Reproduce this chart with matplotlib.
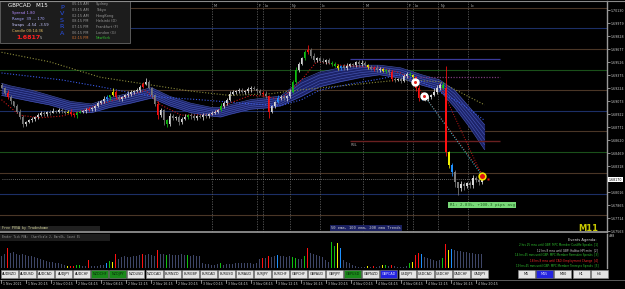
import numpy as np
import matplotlib
matplotlib.use("Agg")
import matplotlib.pyplot as plt
from matplotlib.lines import Line2D
from matplotlib.patches import Rectangle

W, H = 625, 289

# ---- price data (GBPCAD, one close per bar) ----
first_open = 1.6926
closes = [
    1.6923, 1.6917, 1.6912, 1.6907, 1.6902, 1.6895, 1.6889, 1.6881, 1.6883, 1.6885,
    1.6887, 1.6889, 1.6891, 1.6894, 1.6892, 1.6895, 1.6894, 1.6896, 1.6895, 1.6897,
    1.6896, 1.6894, 1.6895, 1.6892, 1.6891, 1.6894, 1.6895, 1.6896, 1.6897, 1.6898,
    1.6899, 1.6902, 1.6905, 1.6907, 1.6910, 1.6912, 1.6914, 1.6918, 1.6912, 1.6910,
    1.6912, 1.6914, 1.6916, 1.6918, 1.6919, 1.6920, 1.6924, 1.6927, 1.6930, 1.6923,
    1.6914, 1.6904, 1.6891, 1.6897, 1.6885, 1.6881, 1.6890, 1.6888, 1.6889, 1.6883,
    1.6887, 1.6889, 1.6891, 1.6890, 1.6888, 1.6890, 1.6889, 1.6891, 1.6890, 1.6892,
    1.6894, 1.6895, 1.6897, 1.6902, 1.6905, 1.6909, 1.6916, 1.6918, 1.6919, 1.6920,
    1.6918, 1.6919, 1.6921, 1.6923, 1.6921, 1.6919, 1.6917, 1.6916, 1.6913, 1.6895,
    1.6902, 1.6906, 1.6911, 1.6912, 1.6911, 1.6913, 1.6918, 1.6930, 1.6943, 1.6950,
    1.6957, 1.6964, 1.6967, 1.6960, 1.6955, 1.6957, 1.6954, 1.6953, 1.6955, 1.6952,
    1.6950, 1.6948, 1.6946, 1.6948, 1.6946, 1.6948, 1.6950, 1.6949, 1.6953, 1.6950,
    1.6952, 1.6949, 1.6947, 1.6945, 1.6946, 1.6943, 1.6945, 1.6942, 1.6943, 1.6941,
    1.6933, 1.6932, 1.6933, 1.6931, 1.6936, 1.6939, 1.6938, 1.6935, 1.6923, 1.6911,
    1.6913, 1.6910, 1.6912, 1.6914, 1.6918, 1.6923, 1.6926, 1.6923, 1.6848, 1.6833,
    1.6825, 1.6813, 1.6807, 1.6811, 1.6809, 1.6812, 1.6810, 1.6818, 1.6816, 1.6813,
    1.6817]
# wick lengths in pips above / below the body
up_wick = [
    2, 1, 3, 2, 1, 2, 3, 2, 1, 2, 2, 1, 3, 2, 2, 1, 2, 3, 1, 2,
    2, 1, 2, 3, 1, 2, 2, 1, 2, 3, 2, 1, 2, 2, 3, 2, 1, 4, 2, 2,
    1, 2, 3, 2, 1, 2, 2, 3, 4, 2, 1, 2, 3, 2, 1, 2, 3, 2, 1, 2,
    2, 3, 1, 2, 2, 1, 2, 3, 2, 1, 2, 2, 1, 3, 2, 2, 3, 2, 1, 2,
    2, 1, 3, 2, 2, 1, 2, 2, 3, 2, 1, 2, 3, 2, 2, 1, 3, 2, 4, 3,
    2, 3, 6, 2, 3, 2, 2, 3, 1, 2, 2, 3, 2, 1, 2, 3, 2, 2, 1, 2,
    3, 2, 1, 2, 2, 3, 2, 1, 2, 2, 3, 2, 1, 2, 3, 2, 2, 1, 2, 3,
    2, 2, 3, 2, 4, 3, 2, 3, 25, 2, 3, 2, 1, 4, 3, 2, 3, 4, 2, 3,
    2]
lo_wick = [
    1, 2, 2, 3, 2, 1, 2, 4, 2, 1, 2, 3, 2, 1, 2, 2, 3, 1, 2, 2,
    3, 2, 1, 2, 2, 3, 1, 2, 2, 1, 2, 3, 2, 1, 2, 2, 3, 1, 2, 2,
    2, 1, 2, 3, 2, 1, 2, 2, 1, 2, 3, 2, 4, 2, 5, 4, 2, 3, 2, 3,
    2, 1, 2, 3, 2, 2, 1, 3, 2, 2, 1, 2, 2, 1, 3, 2, 2, 1, 2, 2,
    1, 2, 2, 3, 1, 2, 2, 3, 2, 7, 2, 3, 1, 2, 2, 3, 2, 1, 2, 2,
    1, 2, 2, 3, 2, 2, 1, 2, 3, 2, 2, 1, 2, 3, 2, 2, 1, 2, 2, 3,
    2, 1, 2, 2, 3, 2, 2, 1, 2, 3, 2, 2, 1, 3, 2, 2, 2, 3, 4, 3,
    2, 3, 2, 2, 1, 2, 3, 2, 4, 3, 4, 5, 8, 4, 5, 3, 4, 3, 2, 3,
    2]
# broker tick volume per bar
volumes = [
    600, 700, 1000, 750, 800, 700, 650, 700, 650, 600, 600, 550, 500, 450, 400, 350, 300, 300, 250, 250,
    200, 150, 100, 100, 100, 150, 150, 100, 100, 400, 100, 100, 100, 150, 150, 250, 350, 300, 700, 450,
    550, 600, 550, 550, 600, 600, 650, 700, 650, 700, 650, 600, 900, 700, 700, 650, 700, 650, 650, 650,
    700, 650, 650, 600, 650, 600, 600, 250, 200, 200, 150, 150, 200, 250, 150, 200, 200, 200, 250, 250,
    250, 250, 250, 250, 200, 250, 450, 500, 500, 600, 550, 600, 650, 600, 600, 550, 600, 550, 500, 450,
    450, 600, 1000, 750, 700, 650, 600, 550, 400, 300, 1300, 1100, 1250, 1000, 400, 300, 250, 150, 100, 50,
    50, 50, 100, 50, 100, 50, 100, 150, 150, 100, 150, 100, 50, 50, 50, 100, 250, 300, 650, 750,
    700, 550, 500, 450, 400, 350, 400, 500, 1200, 900, 950, 900, 850, 850, 800, 800, 750, 750, 700, 700,
    700]
# PVSA volume classes: r climax bear, g climax bull, y / b rising volume
pvsa_class = {2: 'r', 22: 'y', 23: 'r', 24: 'r', 25: 'g', 26: 'g', 29: 'r', 35: 'b', 36: 'g',
              37: 'y', 38: 'r', 47: 'r', 52: 'r', 55: 'g', 62: 'g', 73: 'g', 87: 'r', 89: 'r',
              92: 'b', 97: 'g', 98: 'g', 101: 'g', 102: 'r', 110: 'g', 111: 'g', 112: 'y',
              113: 'b', 122: 'y', 124: 'r', 127: 'y', 128: 'g', 130: 'r', 136: 'g', 137: 'y',
              138: 'r', 139: 'r', 140: 'b', 147: 'g', 148: 'r', 149: 'y', 150: 'b'}

# ---- 50/100/200 ema trend ribbon and dotted averages ----
ribbon_bars = [0, 3, 10, 16, 23, 30, 36, 43, 50, 56, 63, 70, 73, 76, 83, 90, 93, 100, 106, 113,
               120, 126, 133, 140, 146, 151, 156, 161]
ribbon_hi = [1.6928, 1.6925, 1.6920, 1.6914, 1.6907, 1.6904, 1.6911, 1.6917, 1.6923, 1.6913,
             1.6905, 1.6900, 1.6900, 1.6903, 1.6909, 1.6912, 1.6913, 1.6932, 1.6941, 1.6946,
             1.6949, 1.6949, 1.6946, 1.6938, 1.6932, 1.6920, 1.6900, 1.6880]
ribbon_lo = [1.6914, 1.6912, 1.6907, 1.6903, 1.6896, 1.6894, 1.6900, 1.6905, 1.6911, 1.6902,
             1.6894, 1.6890, 1.6889, 1.6892, 1.6898, 1.6900, 1.6902, 1.6913, 1.6924, 1.6930,
             1.6935, 1.6938, 1.6934, 1.6926, 1.6920, 1.6900, 1.6877, 1.6851]
slow_bars = [0, 10, 20, 33, 43, 53, 66, 80, 93, 100, 106, 116, 126, 133, 140, 146, 153, 161]
slow_ema = [1.6940, 1.6936, 1.6932, 1.6924, 1.6917, 1.6912, 1.6909, 1.6905, 1.6902, 1.6909,
            1.6920, 1.6927, 1.6933, 1.6938, 1.6930, 1.6918, 1.6905, 1.6885]
long_bars = [0, 16, 33, 50, 63, 76, 90, 96, 113, 133, 146, 161]
long_ema = [1.6964, 1.6953, 1.6935, 1.6926, 1.6919, 1.6914, 1.6916, 1.6919, 1.6925, 1.6932,
            1.6930, 1.6903]
fast_bars = [0, 6, 13, 20, 26, 33, 40, 48, 53, 60, 70, 76, 83, 88, 93, 100, 105, 113, 126, 133, 136]
fast_ema = [1.6909, 1.6891, 1.6888, 1.6890, 1.6895, 1.6904, 1.6911, 1.6920, 1.6903, 1.6891,
            1.6892, 1.6905, 1.6914, 1.6913, 1.6909, 1.6932, 1.6953, 1.6949, 1.6946, 1.6940, 1.6934]

# ---- levels, sessions, signals ----
levels = [1.7015, 1.6992, 1.6968, 1.6943, 1.6920, 1.6896, 1.6873, 1.6848, 1.6824, 1.6800, 1.6775]
session_bars = [70, 85, 87, 96, 106, 120.5, 135, 137, 145.5, 155.5]
session_names = ['M', 'F', 'Lo', 'Ny', 'Lc', 'M', 'F', 'Lo', 'Ny', 'Lc']
signal_bars = [137.8, 140.8]
signal_prices = [1.6930, 1.6913]
target_bar, target_price = 160.2, 1.6821
r3l_level, zone_top, zone_mid = 1.6861, 1.6956, 1.6935
current_price = 1.6817
price_ticks = [1.70130, 1.69979, 1.69828, 1.69677, 1.69526, 1.69375, 1.69224, 1.69073, 1.68922,
               1.68771, 1.68620, 1.68469, 1.68318, 1.68016, 1.67865, 1.67714, 1.67563]

time_labels = ['1 Nov 2021', '1 Nov 20:15', '2 Nov 00:15', '2 Nov 04:15', '2 Nov 08:15',
               '2 Nov 12:15', '2 Nov 16:15', '2 Nov 20:15', '3 Nov 00:15', '3 Nov 04:15',
               '3 Nov 08:15', '3 Nov 12:15', '3 Nov 16:15', '3 Nov 20:15', '4 Nov 00:15',
               '4 Nov 04:15', '4 Nov 08:15', '4 Nov 12:15', '4 Nov 16:15', '4 Nov 20:15']
pairs = ['AUDNZD', 'AUDUSD', 'AUDCAD', 'AUDJPY', 'AUDCHF', 'NZDCHF', 'NZDJPY', 'NZDUSD', 'NZDCAD',
         'EURNZD', 'EURGBP', 'EURCAD', 'EURUSD', 'EURAUD', 'EURJPY', 'EURCHF', 'GBPCHF', 'GBPAUD',
         'GBPJPY', 'GBPUSD', 'GBPNZD', 'GBPCAD', 'USDJPY', 'USDCAD', 'USDCHF', 'CADCHF', 'CADJPY']
green_pairs = ['NZDCHF', 'NZDJPY', 'GBPUSD']
timeframes = ['M5', 'M15', 'M30', 'H1', 'H4']
sessions_clock = [('05:15 AM', 'Sydney'), ('03:15 AM', 'Tokyo'), ('02:15 AM', 'HongKong'),
                  ('08:15 PM', 'Helsinki (D)'), ('07:15 PM', 'Frankfurt (F)'),
                  ('06:15 PM', 'London (G)'), ('02:15 PM', 'NewYork')]
events = [('2 hrs 25 mns until GBP: MPC Member Cunliffe Speaks  [1]', '#2fc22f'),
          ('12 hrs 8 mns until GBP: Halifax HPI m/m  [2]', '#d0d0d0'),
          ('14 hrs 45 mns until GBP: MPC Member Ramsden Speaks  [3]', '#2fc22f'),
          ('18 hrs 8 mns until CAD: Employment Change  [4]', '#ff2a2a'),
          ('19 hrs 45 mns until GBP: MPC Member Tenreyro Speaks  [5]', '#2fc22f')]

CLS = {'r': '#ff1010', 'g': '#10c010', 'y': '#f0f000', 'b': '#1e90ff'}


def fx(x):
    return x / W


def fy(y):
    return 1 - y / H


fig = plt.figure(figsize=(W / 100, H / 100), dpi=100, facecolor='black')

# main price panel
ax = fig.add_axes([0, fy(232), fx(607), 231 / H])
ax.set_facecolor('black')
ax.set_xlim(-0.5, 201.8)
ax.set_ylim(1.67555, 1.70235)

lvl_cols = ['#4a3626', '#1c2f66', '#4a3626', '#1a501a']
for k, lv in enumerate(levels):
    ax.axhline(lv, color=lvl_cols[k % 4], lw=0.8, zorder=1)

for sb in session_bars:
    ax.axvline(sb, color='#5a5a5a', lw=0.6, ls=(0, (1.5, 1.5)), zorder=1)

for sb, nm in zip(session_bars, session_names):
    ax.text(sb + 0.8, 0.985, nm, transform=ax.get_xaxis_transform(), color='#b0b0b0',
            fontsize=2.6, va='top', ha='left')

n = len(closes)
idx = np.arange(n)
c = np.array(closes)
o = np.r_[first_open, c[:-1]]
hi = np.maximum(o, c) + np.array(up_wick) * 1e-4
lo = np.minimum(o, c) - np.array(lo_wick) * 1e-4
cols = []
for i in range(n):
    if i in pvsa_class:
        cols.append(CLS[pvsa_class[i]])
    else:
        cols.append('#d8d8d8' if c[i] >= o[i] else '#7c7c7c')

# ribbon
rb = np.array(ribbon_bars)
rh = np.array(ribbon_hi)
rl = np.array(ribbon_lo)
ax.fill_between(rb, rl, rh, color='#1c2368', zorder=2, lw=0)
for f in np.linspace(0, 1, 6):
    ax.plot(rb, rl + f * (rh - rl), color='#4656b4', lw=0.45, zorder=2)

ax.plot(long_bars, long_ema, color='#8a8a3a', lw=0.8, ls=(0, (1, 1.6)), zorder=3)
ax.plot(slow_bars, slow_ema, color='#3a5ae8', lw=0.8, ls=(0, (1, 1.6)), zorder=3)
ax.plot(fast_bars, fast_ema, color='#c81818', lw=0.8, ls=(0, (1, 1.6)), zorder=3)

# zones and projections
ax.hlines(zone_top, 116, 166, color='#3a3a9a', lw=0.9, zorder=2)
ax.hlines(zone_mid, 139.5, 166, color='#7a3a7a', lw=0.9, ls=(0, (1, 1.2)), zorder=2)
ax.hlines(r3l_level, 116, 166, color='#6a2020', lw=1.0, zorder=2)
ax.text(116.5, r3l_level - 0.0002, 'R3L', color='#a0a0a0', fontsize=2.6, va='top')
ax.hlines(current_price, 0, 160, color='#8a8a8a', lw=0.6, ls=(0, (1, 1.5)), zorder=2)

ax.plot([137, 160], [1.6932, 1.6824], color='#c81818', lw=0.7, ls=(0, (1, 1.6)), zorder=3)
ax.plot([146, 160], [1.6927, 1.6822], color='#c81818', lw=0.7, ls=(0, (1, 1.6)), zorder=3)
ax.plot([141, 160], [1.6913, 1.6822], color='#30c8d8', lw=0.7, ls=(0, (1, 1.6)), zorder=3)

# candles
ax.vlines(idx, lo, hi, colors=cols, lw=0.55, zorder=4)
ax.bar(idx, np.maximum(np.abs(c - o), 0.00004), bottom=np.minimum(o, c), width=0.62,
       color=cols, lw=0, zorder=4)

ax.plot(signal_bars, signal_prices, 'o', ms=5, mfc='white', mec='white', zorder=5)
ax.plot(signal_bars, signal_prices, 'o', ms=2.2, mfc='#e02020', mec='none', zorder=6)
ax.plot([target_bar], [target_price], 'o', ms=6, mfc='#f0e000', mec='none', zorder=5)
ax.plot([target_bar], [target_price], 'o', ms=3.6, mfc='#e01010', mec='none', zorder=6)
ax.plot([target_bar + 2], [current_price], 's', ms=1.5, mfc='#e01010', mec='none', zorder=6)

ax.yaxis.tick_right()
ax.set_yticks(price_ticks)
ax.set_yticklabels(['%.5f' % t for t in price_ticks])
ax.tick_params(axis='y', labelsize=2.3, colors='#c8c8c8', length=2, width=0.5, pad=0.8)
ax.set_xticks([])
for s in ['left', 'top', 'bottom']:
    ax.spines[s].set_visible(False)
ax.spines['right'].set_color('#9a9a9a')
ax.spines['right'].set_linewidth(1.0)

# volume panel
vax = fig.add_axes([0, fy(268), fx(607), 34 / H])
vax.set_facecolor('black')
vax.set_xlim(-0.5, 201.8)
vax.set_ylim(0, 1700)
vcols = [CLS[pvsa_class[i]] if i in pvsa_class else '#3e4668' for i in range(n)]
vax.bar(idx, volumes, width=0.6, color=vcols, lw=0)
vax.set_xticks([])
vax.set_yticks([])
for s in ['left', 'top', 'bottom']:
    vax.spines[s].set_visible(False)
vax.spines['right'].set_color('#9a9a9a')
vax.spines['right'].set_linewidth(1.0)

# separators
fig.add_artist(Line2D([0, fx(625)], [fy(0.6), fy(0.6)], color='#8a8a8a', lw=0.8))
fig.add_artist(Line2D([0, fx(607)], [fy(231.8), fy(231.8)], color='#9a9a9a', lw=1.2))
fig.add_artist(Line2D([0, fx(625)], [fy(279.5), fy(279.5)], color='#6a6a6a', lw=0.6))

# current price flag
fig.text(fx(609), fy(179.7), '%.5f' % current_price, fontsize=2.3, color='black',
         va='center', ha='left', bbox=dict(fc='white', ec='none', pad=0.4))
fig.text(fx(609), fy(236), '498', fontsize=2.3, color='#c8c8c8', va='center')

# info box
fig.add_artist(Rectangle((0, fy(43)), fx(130), 42.5 / H, transform=fig.transFigure,
                         fc='#1c1c1c', ec='#5a5a5a', lw=0.7))
fig.text(fx(8), fy(5.5), 'GBPCAD   M15', fontsize=4.0, color='white', va='center')
info_rows = [('Spread 1.80', '#b48cff'), ('Range  39 ... 170', '#a8a8ff'),
             ('Swaps  -4.54  -3.59', '#c8c8ff'), ('Candle 00:14:36', '#e8c060')]
for k, (t, col) in enumerate(info_rows):
    fig.text(fx(12), fy(13 + 6 * k), t, fontsize=2.7, color=col, va='center')
fig.text(fx(16), fy(37.5), '1.6817', fontsize=4.6, color='#ff2020', fontweight='bold', va='center')
fig.text(fx(40), fy(38.5), '5', fontsize=2.6, color='#c0c0c0', va='center')
for k, ch in enumerate('PVSRA'):
    fig.text(fx(62), fy(7.3 + 6.5 * k), ch, fontsize=4.6, color='#2850e8', va='center',
             ha='center')
for k, (tm, city) in enumerate(sessions_clock):
    last = k == len(sessions_clock) - 1
    fig.text(fx(72), fy(4.3 + 5.7 * k), tm, fontsize=2.5, va='center',
             color='#d07030' if last else '#9a9a9a')
    fig.text(fx(96), fy(4.3 + 5.7 * k), city, fontsize=2.5, va='center',
             color='#30c030' if last else '#9a9a9a')

# chart notes
fig.text(fx(366), fy(228.3), '50 ema, 100 ema, 200 ema Trends', fontsize=2.7, color='#d0d0d0',
         family='DejaVu Sans Mono', ha='center', va='center',
         bbox=dict(fc='#1a2060', ec='none', pad=0.8))
fig.text(fx(482), fy(205), 'R1: 2.83%, +100.3 pips avg', fontsize=3.0, color='#1a5a1a',
         family='DejaVu Sans Mono', ha='center', va='center',
         bbox=dict(fc='#78d878', ec='none', pad=0.8))
fig.text(fx(598), fy(228.5), 'M11', fontsize=6, color='#c8c800', fontweight='bold',
         ha='right', va='center')

fig.add_artist(Rectangle((0, fy(231)), fx(100), 5 / H, transform=fig.transFigure,
                         fc='#202020', ec='none'))
fig.text(fx(2), fy(228.5), 'Free PVSA by Tradeshome', fontsize=2.3, color='#e0e0a0',
         family='DejaVu Sans Mono', va='center')
fig.add_artist(Rectangle((0, fy(241)), fx(110), 7.5 / H, transform=fig.transFigure,
                         fc='#1c1c1c', ec='none'))
fig.text(fx(2), fy(237), 'Broker Tick PVA:  ChartScale 2, BarsOk, Count 55', fontsize=1.9,
         color='#9a9a9a', family='DejaVu Sans Mono', va='center')

fig.text(fx(597), fy(240), 'Events Agenda:', fontsize=2.6, color='#e0e0e0', ha='right',
         va='center')
for k, (t, col) in enumerate(events):
    fig.text(fx(598), fy(245 + 5.2 * k), t, fontsize=2.0, color=col, ha='right', va='center')

# symbol buttons
for k, p in enumerate(pairs):
    x0 = 1 + 18.07 * k
    if p == 'GBPCAD':
        fc, tc = '#2424e0', '#e0e0ff'
    elif p in green_pairs:
        fc, tc = '#1a8a1a', '#0a2a0a'
    else:
        fc, tc = '#e4e4e4', '#101010'
    fig.add_artist(Rectangle((fx(x0), fy(278)), fx(17), 8 / H, transform=fig.transFigure,
                             fc=fc, ec='#8a8a8a', lw=0.4))
    fig.text(fx(x0 + 8.5), fy(274), p, fontsize=2.4, color=tc, ha='center', va='center')

for k, tf in enumerate(timeframes):
    x0 = 518 + 18.2 * k
    blue = tf == 'M15'
    fig.add_artist(Rectangle((fx(x0), fy(278)), fx(17), 8 / H, transform=fig.transFigure,
                             fc='#2424e0' if blue else '#e4e4e4', ec='#8a8a8a', lw=0.4))
    fig.text(fx(x0 + 8.5), fy(274), tf, fontsize=2.4, color='#e0e0ff' if blue else '#101010',
             ha='center', va='center')

# time axis
for k, lab in enumerate(time_labels):
    x0 = 1 + 25 * k
    fig.add_artist(Line2D([fx(x0), fx(x0)], [fy(280), fy(283)], color='#c0c0c0', lw=0.5))
    fig.text(fx(x0 + 2), fy(284), lab, fontsize=2.3, color='#d0d0d0', va='center')

fig.savefig('out.png', dpi=100, facecolor='black')
